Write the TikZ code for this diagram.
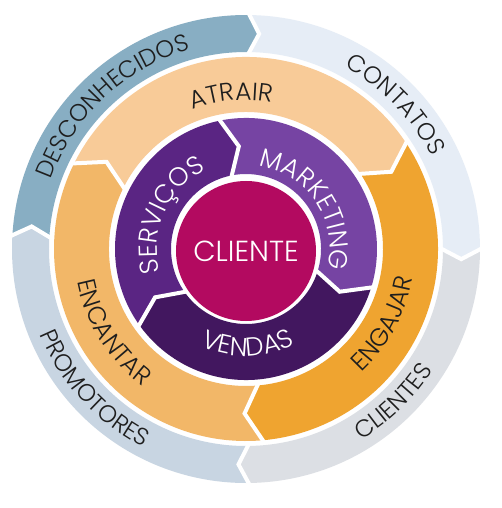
\documentclass[tikz,border=0pt]{standalone}
\usepackage{fontspec}
\setmainfont{Poppins Light}
\usetikzlibrary{decorations.text}
\definecolor{cDes}{HTML}{88AEC3}
\definecolor{cCon}{HTML}{E6EDF6}
\definecolor{cClis}{HTML}{DCDFE4}
\definecolor{cPro}{HTML}{C8D5E2}
\definecolor{cAtr}{HTML}{F8CB98}
\definecolor{cEng}{HTML}{EFA430}
\definecolor{cEnc}{HTML}{F2B768}
\definecolor{cSer}{HTML}{5A2583}
\definecolor{cMar}{HTML}{7644A3}
\definecolor{cVen}{HTML}{42175F}
\definecolor{cCli}{HTML}{B30A60}
\definecolor{cTxt}{HTML}{1E1E1E}
\newcommand\chevseg[6]{% color, Ro, Ri, a0, a1, d
  \pgfmathsetmacro\chevmid{(#2+#3)/2}%
  \fill[#1] (#4:#2) arc[start angle=#4, end angle=#5, radius=#2]
    -- ({#5-#6}:\chevmid) -- (#5:#3) arc[start angle=#5, end angle=#4, radius=#3]
    -- ({#4-#6}:\chevmid) -- cycle;}
\newcommand\chevsep[4]{% Ro, Ri, a, d
  \pgfmathsetmacro\chevmid{(#1+#2)/2}%
  \draw[sepline] ({#3}:{#1+3}) -- ({#3-#4}:\chevmid) -- ({#3}:{#2-3});}
\newcommand\arclabel[4]{% text, center angle, radius, half span (+ = clockwise)
  \path[decorate, decoration={text along path, text={#1}, text align=center}]
    ({#2+#4}:#3) arc[start angle={#2+#4}, end angle={#2-#4}, radius=#3];}
\newcommand\outerfont{\fontsize{24bp}{28bp}\selectfont\color{cTxt}}
\newcommand\midfont{\fontsize{25bp}{29bp}\selectfont\color{cTxt}}
\newcommand\innerfont{\fontsize{26bp}{30bp}\selectfont\color{white}}
\begin{document}
\begin{tikzpicture}[x=1bp,y=1bp,
  sepline/.style={white, line width=4bp, line join=miter}]
\useasboundingbox[fill=white] (-246,-259) rectangle (256,249);
% outer ring
\chevseg{cDes}{234}{197}{177}{89.5}{3}
\chevseg{cCon}{234}{197}{89.5}{0.3}{3}
\chevseg{cClis}{234}{197}{0.3}{-89}{3}
\chevseg{cPro}{234}{197}{271}{177}{3}
\chevsep{234}{197}{177}{3}
\chevsep{234}{197}{89.5}{3}
\chevsep{234}{197}{0.3}{3}
\chevsep{234}{197}{271}{3}
% orange ring
\chevseg{cAtr}{192}{137}{154}{34}{6}
\chevseg{cEng}{192}{137}{34}{-84.5}{6}
\chevseg{cEnc}{192}{137}{275.5}{154}{6}
\chevsep{192}{137}{154}{6}
\chevsep{192}{137}{34}{6}
\chevsep{192}{137}{275.5}{6}
% purple ring
\chevseg{cSer}{131}{75}{216}{102}{8}
\chevseg{cMar}{131}{75}{102}{-16.5}{8}
\chevseg{cVen}{131}{75}{343.5}{216}{8}
\chevsep{131}{75}{216}{8}
\chevsep{131}{75}{102}{8}
\chevsep{131}{75}{343.5}{8}
% centre
\node[circle, fill=cCli, minimum size=140bp, inner sep=0pt, text=white,
  font=\fontsize{29bp}{29bp}\selectfont] (cliente) at (0,-2) {CLIENTE};
% labels
\arclabel{|\outerfont|DESCONHECIDOS}{133}{207}{70}
\arclabel{|\outerfont|CONTATOS}{44}{207}{55}
\arclabel{|\outerfont|CLIENTES}{-46}{223}{-55}
\arclabel{|\outerfont|PROMOTORES}{222.6}{223}{-60}
\arclabel{|\midfont|ATRAIR}{95.5}{149}{55}
\arclabel{|\midfont|ENGAJAR}{-28.4}{169}{-55}
\arclabel{|\midfont|ENCANTAR}{212}{172}{-55}
\arclabel{|\innerfont|SERVIÇOS}{156}{89}{85}
\arclabel{|\innerfont|MARKETING}{33.8}{84}{88}
\arclabel{|\innerfont|VENDAS}{271}{107}{-75}
\end{tikzpicture}
\end{document}
